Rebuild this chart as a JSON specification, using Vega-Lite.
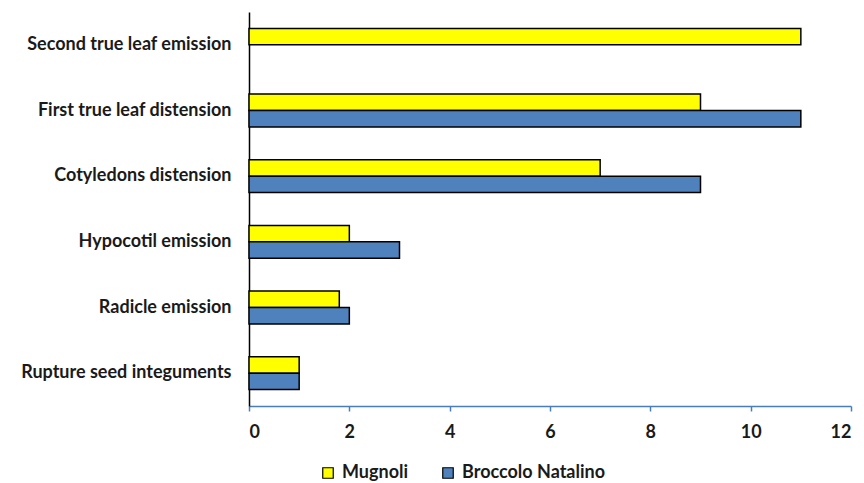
{
  "$schema": "https://vega.github.io/schema/vega-lite/v6.json",
  "autosize": {"type": "none"},
  "width": 602,
  "height": 394,
  "padding": {"left": 249, "top": 12, "right": 13, "bottom": 77},
  "background": "white",
  "config": {"view": {"stroke": null}, "font": "Lato"},
  "data": {
    "values": [
      {"stage": "Second true leaf emission", "cultivar": "Mugnoli", "days": 11},
      {"stage": "First true leaf distension", "cultivar": "Mugnoli", "days": 9},
      {"stage": "First true leaf distension", "cultivar": "Broccolo Natalino", "days": 11},
      {"stage": "Cotyledons distension", "cultivar": "Mugnoli", "days": 7},
      {"stage": "Cotyledons distension", "cultivar": "Broccolo Natalino", "days": 9},
      {"stage": "Hypocotil emission", "cultivar": "Mugnoli", "days": 2},
      {"stage": "Hypocotil emission", "cultivar": "Broccolo Natalino", "days": 3},
      {"stage": "Radicle emission", "cultivar": "Mugnoli", "days": 1.8},
      {"stage": "Radicle emission", "cultivar": "Broccolo Natalino", "days": 2},
      {"stage": "Rupture seed integuments", "cultivar": "Mugnoli", "days": 1},
      {"stage": "Rupture seed integuments", "cultivar": "Broccolo Natalino", "days": 1}
    ]
  },
  "mark": {"type": "bar", "stroke": "black", "strokeWidth": 1.5},
  "encoding": {
    "y": {
      "field": "stage", "type": "nominal", "sort": null, "title": null,
      "scale": {"paddingInner": 0.5, "paddingOuter": 0.25},
      "axis": {"domainColor": "black", "domainWidth": 1.5, "ticks": false, "labelPadding": 18,
               "labelFont": "Lato", "labelFontSize": 18, "labelFontWeight": "bold", "labelColor": "#1a1a1a", "labelLimit": 300}
    },
    "yOffset": {"field": "cultivar", "type": "nominal", "sort": ["Mugnoli", "Broccolo Natalino"], "scale": {"paddingInner": 0, "paddingOuter": 0}},
    "x": {
      "field": "days", "type": "quantitative", "title": null,
      "scale": {"domain": [0, 12], "nice": false},
      "axis": {"values": [0, 2, 4, 6, 8, 10, 12], "grid": false, "domainColor": "#4A7EBB", "domainWidth": 1.5,
               "tickColor": "#4A7EBB", "tickWidth": 1.5, "tickSize": 5, "labelPadding": 12,
               "labelFont": "Lato", "labelFontSize": 18, "labelFontWeight": "bold", "labelColor": "#1a1a1a"}
    },
    "fill": {
      "field": "cultivar", "type": "nominal", "sort": ["Mugnoli", "Broccolo Natalino"],
      "scale": {"domain": ["Mugnoli", "Broccolo Natalino"], "range": ["#FFFF00", "#4F81BD"]},
      "legend": {"orient": "none", "legendX": 70, "legendY": 452, "direction": "horizontal", "title": null,
                 "symbolType": "square", "symbolSize": 110, "symbolStrokeColor": "black", "symbolStrokeWidth": 1.2,
                 "labelFont": "Lato", "labelFontSize": 18, "labelFontWeight": "bold", "labelColor": "#1a1a1a",
                 "columnPadding": 30, "labelOffset": 5}
    }
  }
}
